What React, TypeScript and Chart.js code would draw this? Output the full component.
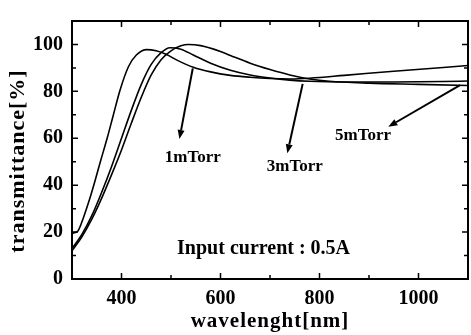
import { useEffect, useRef } from 'react';
import { Chart, registerables } from 'chart.js';

Chart.register(...registerables);

// ---- data ----
const wl1mTorr = [300, 312, 322, 334, 346, 358, 371, 383, 397, 414, 430, 451, 470, 490, 515, 545, 580, 620, 660, 700, 740, 780, 850, 950, 1050, 1100];
const tr1mTorr = [19.5, 20.5, 25.5, 33, 41.5, 50.5, 60, 69.5, 80.5, 90.5, 95.5, 97.8, 97.3, 95.8, 93, 90.3, 88.3, 86.8, 86, 85.5, 85.3, 85.6, 86.8, 88.6, 90.2, 91];

const wl3mTorr = [300, 320, 340, 360, 380, 400, 420, 440, 460, 480, 498, 520, 545, 580, 620, 660, 700, 740, 780, 850, 950, 1050, 1100];
const tr3mTorr = [13, 19, 27, 37, 48, 60, 72, 83, 91.5, 96.5, 98.6, 98, 95.5, 92, 89, 87, 85.7, 84.8, 84.3, 84, 84, 84.2, 84.4];

const wl5mTorr = [300, 320, 340, 360, 380, 400, 420, 440, 460, 480, 500, 520, 535, 560, 600, 620, 660, 700, 740, 780, 820, 900, 1000, 1100];
const tr5mTorr = [12, 18, 25.5, 34.5, 44.5, 55, 66.5, 77.5, 87, 93.5, 97.3, 99.4, 100, 99.5, 97, 95.3, 92, 89.3, 87, 85.3, 84.3, 83.5, 83, 82.5];

const xTickLabels = [400, 600, 800, 1000];
const xMinorTicks = [500, 700, 900];
const yTickLabels = [0, 20, 40, 60, 80, 100];
const yMinorTicks = [10, 30, 50, 70, 90];

const seriesNames = ['1mTorr', '3mTorr', '5mTorr'];
// arrow tail (on curve) -> arrow head, and label centre, in data units
const arrowFrom = [[544, 89.8], [766, 83.2], [1084, 82.7]];
const arrowTo = [[517, 59.7], [735, 53.6], [939, 64.9]];
const labelAt = [[544, 51.8], [750, 48.1], [888, 61]];
const noteText = 'Input current : 0.5A';
const noteAt = [687, 12.8];

const xTitle = 'wavelenght[nm]';
const yTitle = 'transmittance[%]';

const FONT = '"Liberation Serif", "DejaVu Serif", serif';

const toPts = (xs: number[], ys: number[]) => xs.map((x, i) => ({ x, y: ys[i] }));

const decorPlugin = {
  id: 'decor',
  afterDraw(chart: any) {
    const { ctx, chartArea: a, scales } = chart;
    const xs = scales.x;
    const ys = scales.y;
    ctx.save();
    ctx.strokeStyle = '#000';
    ctx.fillStyle = '#000';
    // frame
    ctx.lineWidth = 2;
    ctx.strokeRect(a.left, a.top, a.right - a.left, a.bottom - a.top);
    // inside ticks
    ctx.lineWidth = 1.5;
    const tickX = (v: number, len: number) => {
      const p = xs.getPixelForValue(v);
      ctx.beginPath();
      ctx.moveTo(p, a.bottom); ctx.lineTo(p, a.bottom - len);
      ctx.moveTo(p, a.top); ctx.lineTo(p, a.top + len);
      ctx.stroke();
    };
    const tickY = (v: number, len: number) => {
      const p = ys.getPixelForValue(v);
      ctx.beginPath();
      ctx.moveTo(a.left, p); ctx.lineTo(a.left + len, p);
      ctx.moveTo(a.right, p); ctx.lineTo(a.right - len, p);
      ctx.stroke();
    };
    xTickLabels.forEach(v => tickX(v, 6));
    xMinorTicks.forEach(v => tickX(v, 4));
    yTickLabels.forEach(v => tickY(v, 6));
    yMinorTicks.forEach(v => tickY(v, 4));

    // arrows + labels
    ctx.lineWidth = 2;
    seriesNames.forEach((name, i) => {
      const x1 = xs.getPixelForValue(arrowFrom[i][0]);
      const y1 = ys.getPixelForValue(arrowFrom[i][1]);
      const x2 = xs.getPixelForValue(arrowTo[i][0]);
      const y2 = ys.getPixelForValue(arrowTo[i][1]);
      const ang = Math.atan2(y2 - y1, x2 - x1);
      const hl = 9, hw = 3.5;
      const bx = x2 - hl * Math.cos(ang), by = y2 - hl * Math.sin(ang);
      ctx.beginPath();
      ctx.moveTo(x1, y1); ctx.lineTo(bx, by);
      ctx.stroke();
      ctx.beginPath();
      ctx.moveTo(x2, y2);
      ctx.lineTo(bx + hw * Math.sin(ang), by - hw * Math.cos(ang));
      ctx.lineTo(bx - hw * Math.sin(ang), by + hw * Math.cos(ang));
      ctx.closePath();
      ctx.fill();
      ctx.font = `bold 17px ${FONT}`;
      ctx.textAlign = 'center';
      ctx.textBaseline = 'middle';
      ctx.fillText(name, xs.getPixelForValue(labelAt[i][0]), ys.getPixelForValue(labelAt[i][1]));
    });
    ctx.font = `bold 20px ${FONT}`;
    ctx.textAlign = 'center';
    ctx.textBaseline = 'middle';
    ctx.fillText(noteText, xs.getPixelForValue(noteAt[0]), ys.getPixelForValue(noteAt[1]));

    // axis titles
    ctx.font = `bold 21px ${FONT}`;
    (ctx as any).letterSpacing = '1px';
    ctx.fillText(xTitle, (a.left + a.right) / 2, 322);
    ctx.font = `bold 22px ${FONT}`;
    ctx.translate(18, (a.top + a.bottom) / 2 + 11);
    ctx.rotate(-Math.PI / 2);
    ctx.fillText(yTitle, 0, 0);
    ctx.restore();
  },
};

export default function App() {
  const ref = useRef<HTMLCanvasElement>(null);
  useEffect(() => {
    if (!ref.current) return;
    const lineStyle = {
      borderColor: '#000',
      borderWidth: 1.6,
      pointRadius: 0,
      fill: false,
      cubicInterpolationMode: 'monotone' as const,
    };
    const tickFont = { family: FONT, size: 20, weight: 'bold' as const };
    const chart = new Chart(ref.current, {
      type: 'line',
      data: {
        datasets: [
          { label: seriesNames[0], data: toPts(wl1mTorr, tr1mTorr), ...lineStyle },
          { label: seriesNames[1], data: toPts(wl3mTorr, tr3mTorr), ...lineStyle },
          { label: seriesNames[2], data: toPts(wl5mTorr, tr5mTorr), ...lineStyle },
        ],
      },
      options: {
        animation: false,
        responsive: false,
        maintainAspectRatio: false,
        layout: { padding: { left: 0, top: 11, right: 3, bottom: 0 } },
        plugins: { legend: { display: false }, tooltip: { enabled: false } },
        scales: {
          x: {
            type: 'linear',
            min: 300,
            max: 1100,
            afterBuildTicks: (s: any) => { s.ticks = xTickLabels.map(v => ({ value: v })); },
            afterFit: (s: any) => { s.height = 56; },
            grid: { display: false, drawTicks: false },
            border: { display: false },
            ticks: { color: '#000', padding: 8, maxRotation: 0, font: tickFont, callback: (v: any) => String(v) },
          },
          y: {
            type: 'linear',
            min: 0,
            max: 110,
            afterBuildTicks: (s: any) => { s.ticks = yTickLabels.map(v => ({ value: v })); },
            afterFit: (s: any) => { s.width = 72; },
            grid: { display: false, drawTicks: false },
            border: { display: false },
            ticks: { color: '#000', padding: 9, font: tickFont, callback: (v: any) => String(v) },
          },
        },
      },
      plugins: [decorPlugin],
    });
    return () => chart.destroy();
  }, []);
  return (
    <div style={{ position: 'fixed', left: 0, top: 0, width: 471, height: 335, background: '#fff' }}>
      <canvas ref={ref} width={471} height={335} style={{ display: 'block' }} />
    </div>
  );
}
